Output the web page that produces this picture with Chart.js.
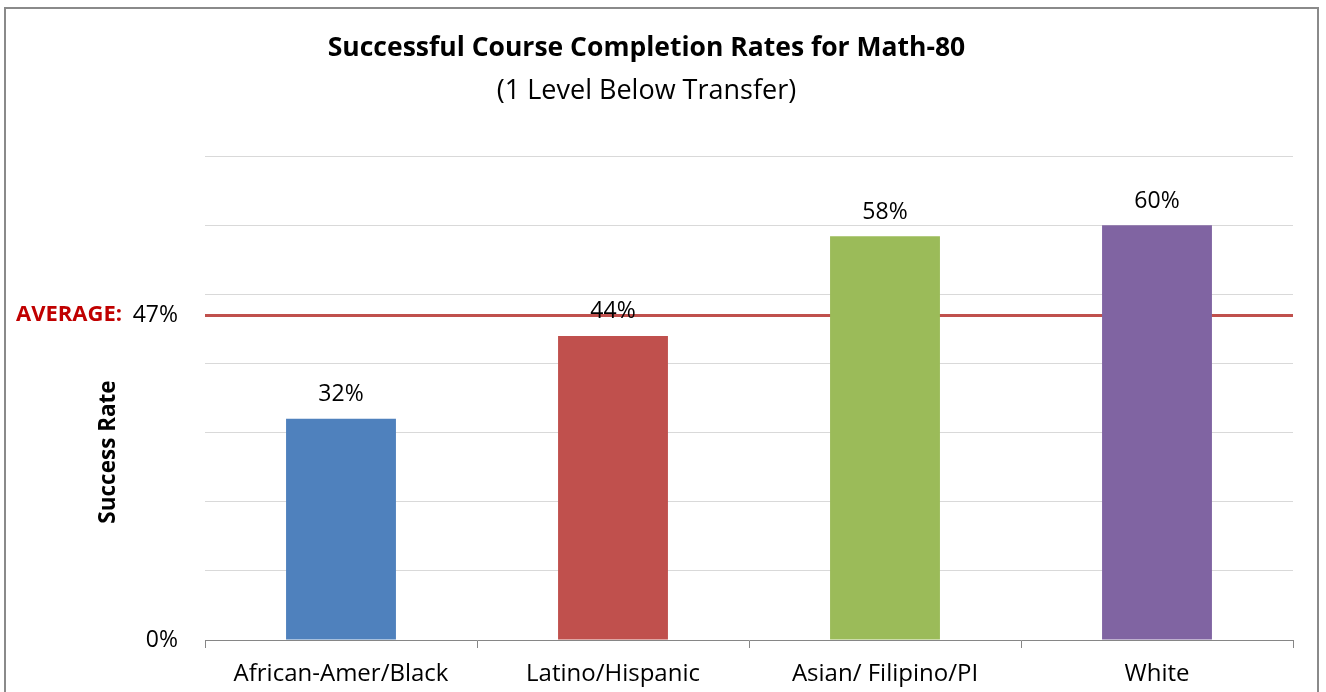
<!DOCTYPE html>
<html>
<head>
<meta charset="utf-8">
<script src="https://cdn.jsdelivr.net/npm/chart.js@4"></script>
<style>
  html, body { margin: 0; padding: 0; background: #ffffff; }
  #wrap { position: relative; width: 1326px; height: 692px; overflow: hidden; }
  #frame { position: absolute; left: 4px; top: 7px; width: 1315px; height: 720px; border: 2px solid #8a8a8a; box-sizing: border-box; pointer-events: none; }
  canvas { position: absolute; left: 0; top: 0; }
</style>
</head>
<body>
<div id="wrap">
  <canvas id="c" width="1326" height="692"></canvas>
  <div id="frame"></div>
</div>
<script>
const categories = ['African-Amer/Black', 'Latino/Hispanic', 'Asian/ Filipino/PI', 'White'];
const successRates = [32, 44, 58.4, 60];
const barColors = ['#4F81BD', '#C0504D', '#9BBB59', '#8064A2'];
const averageRate = 47;
const yTickValues = [0, 10, 20, 30, 40, 47, 50, 60, 70];
const yTickLabels = { 0: '0%', 47: '47%' };
const titleText = 'Successful Course Completion Rates for Math-80';
const subtitleText = '(1 Level Below Transfer)';
const yAxisTitle = 'Success Rate';
const averageLabel = 'AVERAGE:';

const FONT = "'Open Sans', 'Noto Sans', sans-serif";

const extrasPlugin = {
  id: 'extras',
  afterDatasetsDraw(chart) {
    const ctx = chart.ctx;
    const meta = chart.getDatasetMeta(0);
    ctx.save();
    ctx.font = '23px ' + FONT;
    ctx.fillStyle = '#000000';
    ctx.textAlign = 'center';
    ctx.textBaseline = 'middle';
    meta.data.forEach((bar, i) => {
      ctx.fillText(Math.round(successRates[i]) + '%', bar.x, bar.y - 24);
    });
    ctx.restore();
  },
  afterDraw(chart) {
    const ctx = chart.ctx;
    const y = chart.scales.y;
    ctx.save();
    ctx.font = 'bold 22px ' + FONT;
    ctx.fillStyle = '#C00000';
    ctx.textAlign = 'right';
    ctx.textBaseline = 'middle';
    ctx.fillText(averageLabel, 122, y.getPixelForValue(averageRate));
    ctx.translate(109, 452);
    ctx.rotate(-Math.PI / 2);
    ctx.font = 'bold 22.5px ' + FONT;
    ctx.fillStyle = '#000000';
    ctx.textAlign = 'center';
    ctx.fillText(yAxisTitle, 0, 0);
    ctx.restore();
  }
};

new Chart(document.getElementById('c'), {
  type: 'bar',
  data: {
    labels: categories,
    datasets: [{
      data: successRates,
      backgroundColor: barColors,
      borderWidth: 0,
      categoryPercentage: 1.0,
      barPercentage: 0.404
    }]
  },
  options: {
    responsive: false,
    animation: false,
    devicePixelRatio: 1,
    layout: { padding: { left: 0, right: 33, top: 0, bottom: 0 } },
    plugins: {
      legend: { display: false },
      tooltip: { enabled: false },
      title: {
        display: true,
        text: titleText,
        color: '#000000',
        font: { family: FONT, size: 26.5, weight: 'bold', lineHeight: 1.2 },
        padding: { top: 33, bottom: 10 }
      },
      subtitle: {
        display: true,
        text: subtitleText,
        color: '#000000',
        font: { family: FONT, size: 27, weight: 'normal', lineHeight: 1.2 },
        padding: { top: 0, bottom: 49 }
      }
    },
    scales: {
      x: {
        grid: { display: true, drawOnChartArea: false, drawTicks: true, tickLength: 8, color: '#868686', offset: true },
        border: { display: true, color: '#868686', width: 1 },
        ticks: { color: '#000000', font: { family: FONT, size: 24 }, padding: 12, maxRotation: 0, autoSkip: false },
        afterFit(scale) { scale.height = 52; }
      },
      y: {
        min: 0,
        max: 70,
        afterBuildTicks(scale) { scale.ticks = yTickValues.map(v => ({ value: v })); },
        grid: {
          drawTicks: false,
          color: (c) => c.tick && c.tick.value === averageRate ? '#C0504D' : (c.tick && c.tick.value === 0 ? 'rgba(0,0,0,0)' : '#D9D9D9'),
          lineWidth: (c) => c.tick && c.tick.value === averageRate ? 3 : 1
        },
        border: { display: false },
        ticks: {
          color: '#000000',
          font: { family: FONT, size: 23 },
          padding: 27,
          autoSkip: false,
          callback: (v) => (yTickLabels[v] !== undefined ? yTickLabels[v] : '')
        },
        afterFit(scale) { scale.width = 205; }
      }
    }
  },
  plugins: [extrasPlugin]
});
</script>
</body>
</html>
